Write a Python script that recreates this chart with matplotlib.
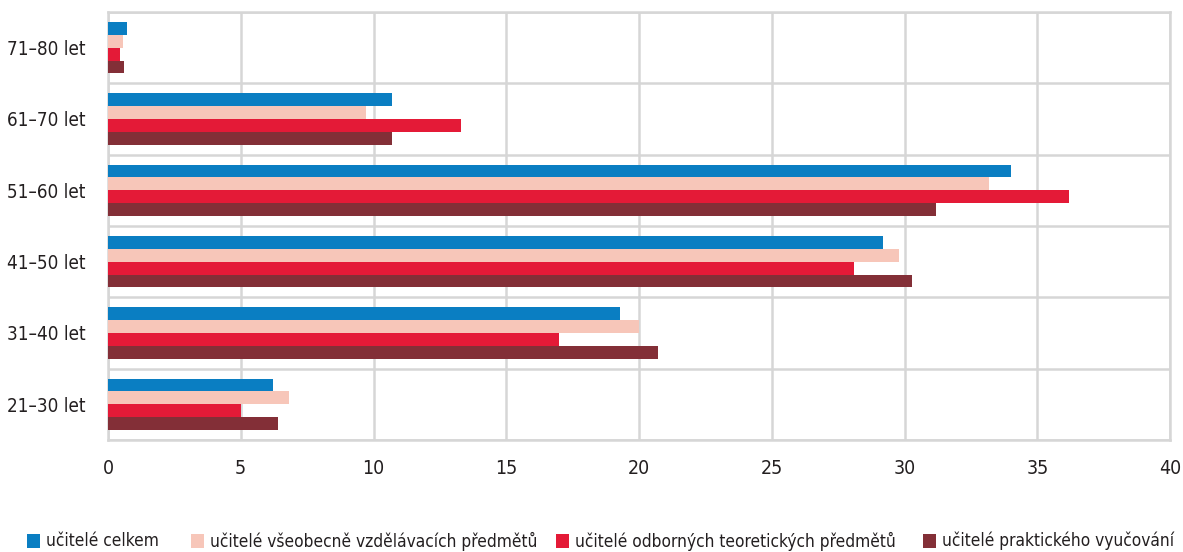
import matplotlib

matplotlib.use("Agg")
import matplotlib.pyplot as plt
import numpy as np
from matplotlib.patches import Rectangle
from matplotlib import font_manager

categories = ["21–30 let", "31–40 let", "41–50 let", "51–60 let", "61–70 let", "71–80 let"]
series_names = [
    "učitelé celkem",
    "učitelé všeobecně vzdělávacích předmětů",
    "učitelé odborných teoretických předmětů",
    "učitelé praktického vyučování",
]
celkem = [6.2, 19.3, 29.2, 34.0, 10.7, 0.7]
vseobecne = [6.8, 20.0, 29.8, 33.2, 9.7, 0.55]
odborne = [5.0, 17.0, 28.1, 36.2, 13.3, 0.47]
prakticke = [6.4, 20.7, 30.3, 31.2, 10.7, 0.62]
x_ticks = [0, 5, 10, 15, 20, 25, 30, 35, 40]

COLORS = ["#0A7EC2", "#F7C6B9", "#E41A37", "#832F37"]
GRID = "#D6D6D6"
TXT = "#231F20"
W, H = 1183, 552

# pick a narrow face if one is installed (reference uses a condensed sans)
narrow = None
for f in font_manager.fontManager.ttflist:
    fn = f.fname.lower()
    if ("narrow" in fn or "condensed" in fn) and f.weight in (400, "normal", "regular") \
            and f.style == "normal" and "bold" not in fn and "oblique" not in fn and "italic" not in fn:
        narrow = f.fname
        break

if narrow:
    FP = lambda size: font_manager.FontProperties(fname=narrow, size=size)
    sz_y, sz_x, sz_l = 13.5, 14, 12.4
else:
    FP = lambda size: font_manager.FontProperties(family="Roboto", size=size)
    sz_y, sz_x, sz_l = 12, 13, 10.5

fig = plt.figure(figsize=(W / 100, H / 100), dpi=100)
ax = fig.add_axes([108 / W, 1 - 440 / H, (1170 - 108) / W, 428 / H])

y = np.arange(len(categories))
h = 0.18
offsets = [0.27, 0.09, -0.09, -0.27]
for vals, off, col, name in zip([celkem, vseobecne, odborne, prakticke], offsets, COLORS, series_names):
    ax.barh(y + off, vals, height=h, color=col, label=name, zorder=3)

ax.set_xlim(0, 40)
ax.set_ylim(-0.5, len(categories) - 0.5)
ax.set_xticks(x_ticks)
ax.set_xticklabels([str(t) for t in x_ticks], fontproperties=FP(sz_x), color=TXT)
ax.set_yticks(y)
ax.set_yticklabels(categories, fontproperties=FP(sz_y), color=TXT)
ax.set_yticks(np.arange(-0.5, len(categories), 1), minor=True)
ax.tick_params(axis="both", which="both", length=0)
ax.tick_params(axis="x", pad=14)
ax.tick_params(axis="y", pad=16)
ax.grid(True, axis="x", color=GRID, lw=1.8, zorder=0)
ax.grid(True, axis="y", which="minor", color=GRID, lw=1.8, zorder=0)
ax.grid(False, axis="y", which="major")
ax.set_axisbelow(True)
for s in ax.spines.values():
    s.set_color(GRID)
    s.set_linewidth(1.8)

# legend laid out by hand along the bottom, as in the reference
leg_x = [27, 191, 556, 923]
for x0, col, name in zip(leg_x, COLORS, series_names):
    fig.patches.append(Rectangle((x0 / W, 1 - 548 / H), 13 / W, 14 / H,
                                 transform=fig.transFigure, facecolor=col, edgecolor="none"))
    fig.text((x0 + 19) / W, 1 - 541 / H, name, fontproperties=FP(sz_l), color=TXT,
             ha="left", va="center")

fig.savefig("out.png", dpi=100)
